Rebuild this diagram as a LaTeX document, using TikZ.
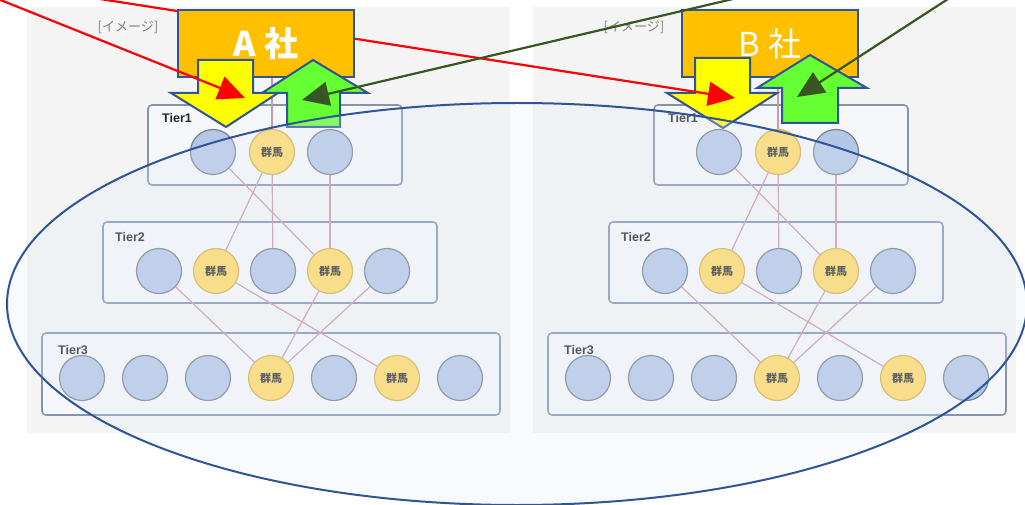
\documentclass[tikz,border=0pt]{standalone}
\usepackage{fontspec}
\setmainfont{Liberation Sans}
\newfontfamily\jpfont{Noto Sans CJK JP}
\usetikzlibrary{arrows.meta}
\definecolor{panelGray}{HTML}{F4F4F4}
\definecolor{tierFill}{HTML}{F5F7FA}
\definecolor{tierLine}{HTML}{8593AD}
\definecolor{nodeBlue}{HTML}{B4C7E7}
\definecolor{nodeBlueLine}{HTML}{76808F}
\definecolor{nodeGold}{HTML}{FFD966}
\definecolor{nodeGoldLine}{HTML}{D2B052}
\definecolor{linkPink}{HTML}{C798AE}
\definecolor{frameBlue}{HTML}{2F5597}
\definecolor{boxOrange}{HTML}{FFC000}
\definecolor{arrowYellow}{HTML}{FFFF00}
\definecolor{arrowGreen}{HTML}{66FF33}
\definecolor{lineGreen}{HTML}{375623}
\definecolor{ovalFill}{HTML}{E4EEF9}
\begin{document}
\begin{tikzpicture}[x=1pt, y=-1pt,
    tierStyle/.style={rectangle, draw=tierLine, fill=tierFill, line width=1.6pt, rounded corners=4pt},
    tierLabel/.style={anchor=west, inner sep=0pt, text=black!85, font=\bfseries\fontsize{12.5}{13}\selectfont},
    imageLabel/.style={inner sep=0pt, text=black!50, font=\jpfont\fontsize{13}{13}\selectfont},
    blueStyle/.style={circle, draw=nodeBlueLine, fill=nodeBlue, line width=1.2pt, minimum size=45pt, inner sep=0pt},
    gunmaStyle/.style={circle, draw=nodeGoldLine, fill=nodeGold, line width=1.2pt, minimum size=45pt, inner sep=0pt, text=black!80, font=\jpfont\bfseries\fontsize{11}{11}\selectfont},
    linkStyle/.style={draw=linkPink, line width=1.2pt},
    companyStyle/.style={rectangle, draw=frameBlue, fill=boxOrange, line width=2pt, minimum width=176pt, minimum height=67pt, inner sep=0pt, text=white},
    yellowArrow/.style={draw=frameBlue, fill=arrowYellow, line width=2pt},
    greenArrow/.style={draw=frameBlue, fill=arrowGreen, line width=2pt},
    redPointer/.style={draw=red, line width=2.2pt, -{Triangle[length=27pt, width=24pt]}},
    greenPointer/.style={draw=lineGreen, line width=2.2pt, -{Triangle[length=27pt, width=24pt]}}]
\useasboundingbox (0,0) rectangle (1025,505);

% two screenshots of the tier structure
\foreach \p/\dx in {A/0, B/506}{
  \begin{scope}[xshift=\dx]
    \fill[panelGray] (27,7) rectangle (510,433);
    \node[imageLabel] (\p_img) at (128,27) {[イメージ]};

    \node[tierStyle, minimum width=254pt, minimum height=80pt] (\p_t1) at (275,145) {};
    \node[tierStyle, minimum width=334pt, minimum height=81pt] (\p_t2) at (270,262.5) {};
    \node[tierStyle, minimum width=458pt, minimum height=82pt] (\p_t3) at (271,374) {};
    \node[tierLabel] (\p_t1_lbl) at (162,118) {Tier1};
    \node[tierLabel] (\p_t2_lbl) at (115,237) {Tier2};
    \node[tierLabel] (\p_t3_lbl) at (58,350) {Tier3};

    \node[blueStyle]  (\p_t1_0) at (213,152) {};
    \node[gunmaStyle] (\p_t1_1) at (272,152) {群馬};
    \node[blueStyle]  (\p_t1_2) at (330,152) {};

    \node[blueStyle]  (\p_t2_0) at (159,271) {};
    \node[gunmaStyle] (\p_t2_1) at (216,271) {群馬};
    \node[blueStyle]  (\p_t2_2) at (273,271) {};
    \node[gunmaStyle] (\p_t2_3) at (330,271) {群馬};
    \node[blueStyle]  (\p_t2_4) at (387,271) {};

    \node[blueStyle]  (\p_t3_0) at (82,378) {};
    \node[blueStyle]  (\p_t3_1) at (145,378) {};
    \node[blueStyle]  (\p_t3_2) at (208,378) {};
    \node[gunmaStyle] (\p_t3_3) at (271,378) {群馬};
    \node[blueStyle]  (\p_t3_4) at (334,378) {};
    \node[gunmaStyle] (\p_t3_5) at (397,378) {群馬};
    \node[blueStyle]  (\p_t3_6) at (460,378) {};

    \draw[linkStyle] (\p_t1_1) -- (\p_t2_1);
    \draw[linkStyle] (\p_t1_1) -- (\p_t2_2);
    \draw[linkStyle] (\p_t1_0) -- (\p_t2_3);
    \draw[linkStyle] (\p_t1_2) -- (\p_t2_3);
    \draw[linkStyle] (\p_t2_0) -- (\p_t3_3);
    \draw[linkStyle] (\p_t2_1) -- (\p_t3_5);
    \draw[linkStyle] (\p_t2_3) -- (\p_t3_3);
    \draw[linkStyle] (\p_t2_4) -- (\p_t3_3);
  \end{scope}
}

% company B
\node[companyStyle, font=\jpfont\fontsize{33}{33}\selectfont] (B_box) at (770,44) {B 社};
\draw[linkStyle] (B_t1_1.north) -- (B_t1_1.north |- B_box.south);
\draw[yellowArrow] (695,58) -- (750,58) -- (750,93) -- (777,93) -- (723,128) -- (667,93) -- (695,93) -- cycle;
\draw[greenArrow] (810,55) -- (867,88) -- (838,88) -- (838,123) -- (782,123) -- (782,88) -- (757,88) -- cycle;

\coordinate (redSrcB) at (100,-1);
\coordinate (redTipB) at (735,98);
\draw[redPointer] (redSrcB) -- (redTipB);

% company A
\node[companyStyle, font=\jpfont\bfseries\fontsize{34}{34}\selectfont] (A_box) at (266,43.5) {A 社};
\draw[linkStyle] (A_t1_1.north) -- (A_t1_1.north |- A_box.south);
\draw[yellowArrow] (198,60) -- (253,60) -- (253,93) -- (278,93) -- (226,127) -- (171,93) -- (198,93) -- cycle;
\draw[greenArrow] (313,60) -- (368,93) -- (340,93) -- (340,127) -- (287,127) -- (287,93) -- (262,93) -- cycle;

% oval round both tier groups
\draw[draw=frameBlue, line width=2pt, fill=ovalFill, fill opacity=0.25] (517,304) ellipse [x radius=510pt, y radius=201pt];

\coordinate (redSrcA) at (-2,-1);
\coordinate (redTipA) at (245,98);
\coordinate (greenSrcA) at (733,-1);
\coordinate (greenTipA) at (302,100);
\coordinate (greenSrcB) at (948,-1);
\coordinate (greenTipB) at (797,97);
\draw[redPointer] (redSrcA) -- (redTipA);
\draw[greenPointer] (greenSrcA) -- (greenTipA);
\draw[greenPointer] (greenSrcB) -- (greenTipB);
\end{tikzpicture}
\end{document}
